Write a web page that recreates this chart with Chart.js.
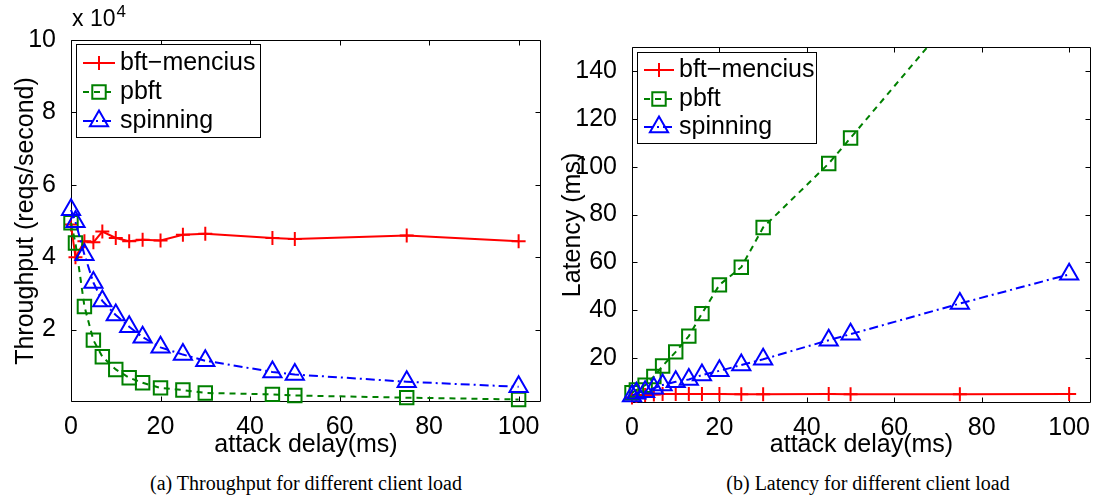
<!DOCTYPE html>
<html><head><meta charset="utf-8">
<script src="https://cdn.jsdelivr.net/npm/chart.js@4.4.1/dist/chart.umd.min.js"></script>
<style>
html,body{margin:0;padding:0;background:#fff;}
#wrap{position:relative;width:1094px;height:500px;overflow:hidden;font-family:"Liberation Sans",Arial,sans-serif;}
canvas{position:absolute;top:0;}
#c1{left:0}
#c2{left:547px}
.cap{position:absolute;top:471px;font-family:"Liberation Serif",serif;font-size:20px;white-space:nowrap;transform:translateX(-50%);line-height:24px;color:#000}
#exp{position:absolute;left:72px;top:6px;font-size:23px;line-height:24px;color:#000;white-space:nowrap}
#exp sup{font-size:17px;position:relative;top:-6px;vertical-align:top;margin-left:1px}
</style></head>
<body>
<div id="wrap">
<canvas id="c1" width="547" height="460"></canvas>
<canvas id="c2" width="547" height="460"></canvas>
<div id="exp">x 10<sup>4</sup></div>
<div class="cap" style="left:306px">(a) Throughput for different client load</div>
<div class="cap" style="left:868px">(b) Latency for different client load</div>
</div>
<script>
// ---- data ----
const delays = [0, 1, 3, 5, 7, 10, 13, 16, 20, 25, 30, 45, 50, 75, 100];
const seriesNames = ["bft\u2212mencius", "pbft", "spinning"];
const xTickValues = [0, 20, 40, 60, 80, 100];
// throughput in reqs/second
const tputBftMencius = [49000, 40000, 44400, 44100, 47100, 45300, 44400, 44800, 44600, 46200, 46500, 45300, 45000, 46000, 44400];
const tputPbft       = [49500, 43900, 26400, 17100, 12500, 9000, 6700, 5300, 3900, 3300, 2500, 2100, 1800, 1200, 700];
const tputSpinning   = [53100, 49800, 40700, 33000, 27900, 24000, 20800, 17900, 15100, 13100, 11400, 8300, 7600, 5600, 4200];
// latency in ms
const latBftMencius = [3.5, 4.2, 4.6, 4.8, 5.0, 5.0, 5.0, 5.0, 5.0, 4.9, 4.9, 5.0, 4.9, 4.9, 5.0];
const latPbft       = [5.5, 6.7, 8.7, 12.3, 16.7, 22.6, 29.2, 38.6, 50.6, 58.0, 74.6, 101.3, 112.0, 166.0, 220.0];
const latSpinning   = [4.2, 5.3, 6.0, 7.4, 8.75, 10.1, 11.1, 12.9, 14.7, 17.1, 19.5, 27.5, 30.0, 42.8, 55.0];
const tputTicks = [20000, 40000, 60000, 80000, 100000];
const latTicks = [20, 40, 60, 80, 100, 120, 140];

const FONT = '"Liberation Sans", Arial, sans-serif';
const FS = 25;
const pts = (ys) => delays.map((x, i) => ({x, y: ys[i]}));

function makeDatasets(a, b, c) {
  const clip = {left: 20, right: 20, top: 0, bottom: 20};
  return [
    {label: seriesNames[0], data: pts(a), borderColor: '#ff0000', borderWidth: 2, borderDash: [],
     pointStyle: 'cross', pointRadius: 7, pointBorderWidth: 2, pointBorderColor: '#ff0000',
     pointBackgroundColor: 'rgba(0,0,0,0)', tension: 0, order: 2, clip},
    {label: seriesNames[1], data: pts(b), borderColor: '#008000', borderWidth: 2, borderDash: [6, 5],
     pointStyle: 'rect', pointRadius: 9.5, pointBorderWidth: 2, pointBorderColor: '#008000',
     pointBackgroundColor: 'rgba(0,0,0,0)', tension: 0, order: 1, clip},
    {label: seriesNames[2], data: pts(c), borderColor: '#0000ff', borderWidth: 2, borderDash: [9, 4, 2, 4],
     pointStyle: 'triangle', pointRadius: 10.5, pointBorderWidth: 2, pointBorderColor: '#0000ff',
     pointBackgroundColor: 'rgba(0,0,0,0)', tension: 0, order: 0, clip}
  ];
}

const framePlugin = {
  id: 'frame',
  beforeDatasetsDraw(chart) {
    const {ctx, chartArea: a, scales} = chart;
    ctx.save();
    ctx.strokeStyle = '#000'; ctx.lineWidth = 1;
    const l = Math.round(a.left) + 0.5, r = Math.round(a.right) - 0.5, t = Math.round(a.top) + 0.5, b = Math.round(a.bottom) - 0.5;
    ctx.beginPath(); ctx.rect(l, t, r - l, b - t); ctx.stroke();
    const L = 5;
    ctx.beginPath();
    scales.x.ticks.forEach(tk => {
      const px = Math.round(scales.x.getPixelForValue(tk.value)) + 0.5;
      ctx.moveTo(px, b); ctx.lineTo(px, b - L); ctx.moveTo(px, t); ctx.lineTo(px, t + L);
    });
    scales.y.ticks.forEach(tk => {
      const py = Math.round(scales.y.getPixelForValue(tk.value)) + 0.5;
      ctx.moveTo(l, py); ctx.lineTo(l + L, py); ctx.moveTo(r, py); ctx.lineTo(r - L, py);
    });
    ctx.stroke();
    ctx.restore();
  }
};

const boxLegend = {
  id: 'boxLegend',
  afterDraw(chart, args, o) {
    if (!o || o.x === undefined) return;
    const ctx = chart.ctx;
    ctx.save();
    ctx.fillStyle = '#fff'; ctx.fillRect(o.x, o.y, o.w, o.h);
    ctx.strokeStyle = '#000'; ctx.lineWidth = 1; ctx.strokeRect(o.x + 0.5, o.y + 0.5, o.w, o.h);
    chart.data.datasets.forEach((ds, i) => {
      const yy = o.rowY[i];
      ctx.save();
      ctx.strokeStyle = ds.borderColor; ctx.lineWidth = ds.borderWidth; ctx.setLineDash(ds.borderDash || []);
      ctx.beginPath(); ctx.moveTo(o.x0, yy); ctx.lineTo(o.x1, yy); ctx.stroke();
      ctx.restore();
      ctx.save();
      ctx.strokeStyle = ds.pointBorderColor; ctx.fillStyle = 'rgba(0,0,0,0)'; ctx.lineWidth = ds.pointBorderWidth;
      Chart.helpers.drawPoint(ctx, {pointStyle: ds.pointStyle, radius: ds.pointRadius, rotation: 0, borderWidth: ds.pointBorderWidth}, (o.x0 + o.x1) / 2, yy);
      ctx.restore();
      ctx.fillStyle = '#000'; ctx.font = o.font; ctx.textBaseline = 'middle'; ctx.textAlign = 'left';
      ctx.fillText(ds.label, o.textX, yy);
    });
    ctx.restore();
  }
};

function makeChart(id, datasets, cfg) {
  return new Chart(document.getElementById(id), {
    type: 'line',
    data: {datasets},
    plugins: [framePlugin, boxLegend],
    options: {
      responsive: false, animation: false, devicePixelRatio: 1,
      layout: {padding: cfg.padding, autoPadding: false},
      plugins: {legend: {display: false}, tooltip: {enabled: false}, boxLegend: cfg.legend},
      scales: {
        x: {
          type: 'linear', min: 0, max: 105,
          afterBuildTicks: s => { s.ticks = xTickValues.map(v => ({value: v})); },
          ticks: {font: {family: FONT, size: FS}, color: '#000', padding: 2, maxRotation: 0, includeBounds: false},
          grid: {display: false}, border: {display: false},
          title: {display: true, text: 'attack delay(ms)', color: '#000', font: {family: FONT, size: FS}, padding: {top: 0, bottom: cfg.xTitlePad}},
          afterFit: s => { s.height = cfg.xH; s.paddingLeft = 0; s.paddingRight = 0; }
        },
        y: {
          type: 'linear', min: cfg.yMin, max: cfg.yMax,
          afterBuildTicks: s => { s.ticks = cfg.yTicks.map(v => ({value: v})); },
          ticks: {font: {family: FONT, size: FS}, color: '#000', padding: 7, callback: cfg.yFmt},
          grid: {display: false}, border: {display: false},
          title: {display: true, text: cfg.yTitle, color: '#000', font: {family: FONT, size: FS}, padding: {top: cfg.yTitlePad, bottom: 0}},
          afterFit: s => { s.width = cfg.yW; s.paddingTop = 0; s.paddingBottom = 0; }
        }
      }
    }
  });
}

makeChart('c1', makeDatasets(tputBftMencius, tputPbft, tputSpinning), {
  padding: {top: 40, right: 6, left: 0, bottom: 0},
  xH: 58, yW: 71, xTitlePad: 0, yTitlePad: 11,
  yMin: 0, yMax: 100000, yTicks: tputTicks, yFmt: v => String(v / 10000),
  yTitle: 'Throughput (reqs/second)',
  legend: {x: 76, y: 44, w: 184, h: 93, rowY: [63, 92, 121], x0: 83, x1: 115, textX: 120, font: FS + 'px ' + FONT}
});

makeChart('c2', makeDatasets(latBftMencius, latPbft, latSpinning), {
  padding: {top: 47, right: 3, left: 0, bottom: 0},
  xH: 57, yW: 85, xTitlePad: 0, yTitlePad: 11,
  yMin: 1.25, yMax: 150, yTicks: latTicks, yFmt: v => String(v),
  yTitle: 'Latency (ms)',
  legend: {x: 90, y: 52, w: 179, h: 91, rowY: [70, 99, 127], x0: 97, x1: 127, textX: 132, font: FS + 'px ' + FONT}
});
</script>
</body></html>
